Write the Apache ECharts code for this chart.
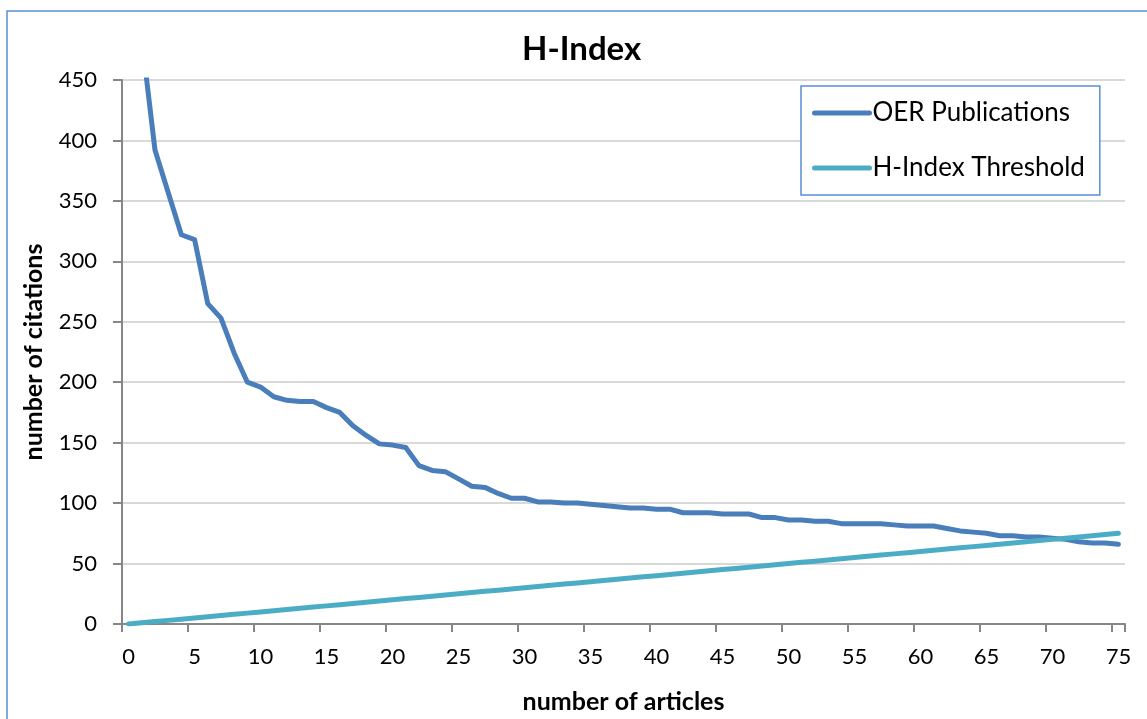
<!DOCTYPE html>
<html>
<head>
<meta charset="utf-8">
<script src="https://cdn.jsdelivr.net/npm/echarts@6/dist/echarts.min.js"></script>
<style>
  html, body { margin: 0; padding: 0; background: #fff; }
  #chart { width: 1147px; height: 719px; }
</style>
</head>
<body>
<div id="chart"></div>
<script>
// Categories: number of articles 0..75
const articleLabels = ["0","1","2","3","4","5","6","7","8","9","10","11","12","13","14","15","16","17","18","19","20","21","22","23","24","25","26","27","28","29","30","31","32","33","34","35","36","37","38","39","40","41","42","43","44","45","46","47","48","49","50","51","52","53","54","55","56","57","58","59","60","61","62","63","64","65","66","67","68","69","70","71","72","73","74","75"];

// Citations of OER publications, sorted descending (article 0 has none)
const oerCitations = [null,484,392,357,322,318,265,253,224,200,196,188,185,184,184,179,175,164,156,149,148,146,131,127,126,120,114,113,108,104,104,101,101,100,100,99,98,97,96,96,95,95,92,92,92,91,91,91,88,88,86,86,85,85,83,83,83,83,82,81,81,81,79,77,76,75,73,73,72,72,71,70,68,67,67,66];

// H-index threshold line (citations = article rank)
const thresholdValues = [0,1,2,3,4,5,6,7,8,9,10,11,12,13,14,15,16,17,18,19,20,21,22,23,24,25,26,27,28,29,30,31,32,33,34,35,36,37,38,39,40,41,42,43,44,45,46,47,48,49,50,51,52,53,54,55,56,57,58,59,60,61,62,63,64,65,66,67,68,69,70,71,72,73,74,75];

const yTicks = { min: 0, max: 450, interval: 50 };

const chart = echarts.init(document.getElementById('chart'));
const FONT = 'Lato';
chart.setOption({
  backgroundColor: '#ffffff',
  animation: false,
  graphic: [{
    type: 'rect',
    shape: { x: 7, y: 11, width: 1300, height: 900 },
    style: { fill: 'none', stroke: '#5B8FD6', lineWidth: 1.5 },
    silent: true,
    z: -1
  }],
  title: {
    text: 'H-Index',
    left: 522,
    top: 33,
    padding: 0,
    textStyle: { fontFamily: FONT, fontSize: 33, fontWeight: 'bold', color: '#000' }
  },
  legend: {
    orient: 'vertical',
    left: 801,
    top: 86,
    backgroundColor: '#ffffff',
    borderColor: '#5B8FD6',
    borderWidth: 1.5,
    borderRadius: 0,
    padding: [14, 15, 14, 11],
    itemWidth: 55,
    itemHeight: 26,
    itemGap: 29,
    lineStyle: { width: 5, cap: 'round' },
    itemStyle: { opacity: 0 },
    textStyle: { fontFamily: FONT, fontSize: 26, color: '#000', padding: [0, 0, 0, -2] },
    data: ['OER Publications', 'H-Index Threshold']
  },
  grid: { left: 122, right: 22, top: 80, bottom: 93, containLabel: false },
  xAxis: {
    type: 'category',
    data: articleLabels,
    boundaryGap: true,
    name: 'number of articles',
    nameLocation: 'middle',
    nameGap: 65,
    nameTextStyle: { fontFamily: FONT, fontSize: 25, fontWeight: 'bold', color: '#000' },
    axisLine: { lineStyle: { color: '#868686', width: 2 } },
    axisTick: { show: true, interval: 4, length: 8, lineStyle: { color: '#868686', width: 2 } },
    axisLabel: { interval: 4, margin: 22, fontFamily: FONT, fontSize: 22, color: '#000' },
    splitLine: { show: false }
  },
  yAxis: {
    type: 'value',
    min: yTicks.min,
    max: yTicks.max,
    interval: yTicks.interval,
    name: 'number of citations',
    nameLocation: 'middle',
    nameGap: 76,
    nameTextStyle: { fontFamily: FONT, fontSize: 25, fontWeight: 'bold', color: '#000' },
    axisLine: { show: true, lineStyle: { color: '#868686', width: 2 } },
    axisTick: { show: true, length: 9, lineStyle: { color: '#868686', width: 2 } },
    axisLabel: { margin: 25, fontFamily: FONT, fontSize: 22, color: '#000' },
    splitLine: { show: true, lineStyle: { color: '#D9D9D9', width: 2 } }
  },
  series: [
    {
      name: 'OER Publications',
      type: 'line',
      data: oerCitations,
      symbol: 'none',
      clip: true,
      connectNulls: false,
      color: '#4A7EBB',
      lineStyle: { color: '#4A7EBB', width: 5, cap: 'round', join: 'round' }
    },
    {
      name: 'H-Index Threshold',
      type: 'line',
      data: thresholdValues,
      symbol: 'none',
      clip: true,
      color: '#4BACC6',
      lineStyle: { color: '#4BACC6', width: 5, cap: 'round', join: 'round' }
    }
  ]
});
</script>
</body>
</html>
